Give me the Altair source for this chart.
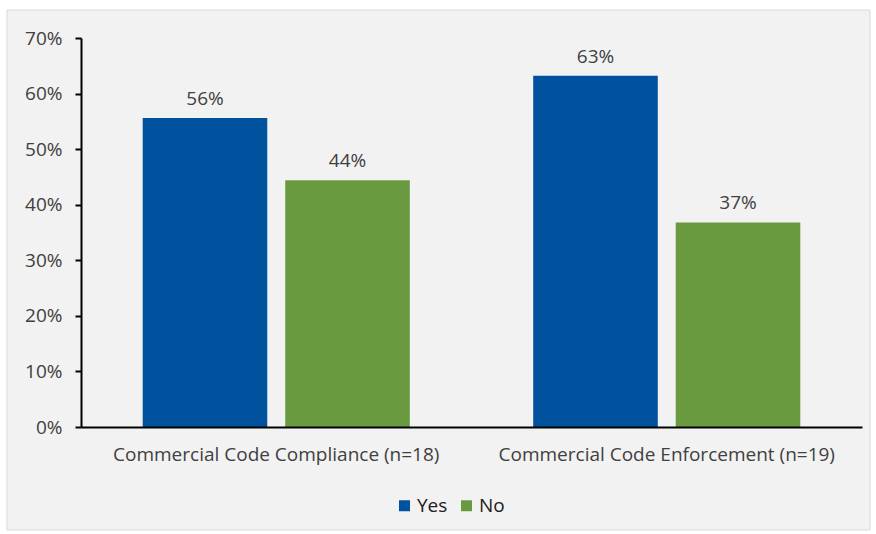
import altair as alt
import pandas as pd

categories = ["Commercial Code Compliance (n=18)", "Commercial Code Enforcement (n=19)"]
series = ["Yes", "No"]
yes_values = [0.556, 0.632]
no_values = [0.444, 0.368]
y_ticks = [0, 0.1, 0.2, 0.3, 0.4, 0.5, 0.6, 0.7]
colors = ["#00529F", "#6A9A40"]

rows = []
for i, c in enumerate(categories):
    rows.append({"category": c, "answer": "Yes", "value": yes_values[i]})
    rows.append({"category": c, "answer": "No", "value": no_values[i]})
df = pd.DataFrame(rows)

FONT = "Open Sans"
FS = 19
TXT = "#404040"

frame = alt.Chart(pd.DataFrame({"a": [0]})).mark_rect(
    fill="#F2F2F2", stroke="#D9D9D9", strokeWidth=1
).encode(
    x=alt.value(-74), x2=alt.value(789), y=alt.value(-28), y2=alt.value(492)
)

x_enc = alt.X(
    "category:N",
    sort=categories,
    scale=alt.Scale(paddingInner=0.316, paddingOuter=0.158),
    axis=alt.Axis(
        title=None, labelAngle=0, ticks=False, domainColor="black", domainWidth=2,
        labelFont=FONT, labelFontSize=FS, labelColor=TXT, labelPadding=18, zindex=1,
        labelLimit=0,
    ),
)
xo_enc = alt.XOffset("answer:N", sort=series, scale=alt.Scale(paddingInner=0.126, paddingOuter=0))
y_enc = alt.Y(
    "value:Q",
    scale=alt.Scale(domain=[0, 0.7], nice=False),
    axis=alt.Axis(
        title=None, values=y_ticks, format=".0%", grid=False, domainColor="black",
        domainWidth=2, tickColor="black", tickWidth=2, tickSize=6, labelPadding=13,
        labelFont=FONT, labelFontSize=FS, labelColor=TXT, zindex=1,
    ),
)

bars = alt.Chart(df).mark_bar().encode(
    x=x_enc,
    xOffset=xo_enc,
    y=y_enc,
    color=alt.Color(
        "answer:N",
        sort=series,
        scale=alt.Scale(domain=series, range=colors),
        legend=alt.Legend(
            title=None, orient="none", direction="horizontal", legendX=314, legendY=458,
            symbolType="square", symbolSize=121, symbolStrokeWidth=0,
            labelFont=FONT, labelFontSize=FS, labelColor="#202020", labelOffset=3,
            columnPadding=9,
        ),
    ),
)

labels = alt.Chart(df).mark_text(
    baseline="bottom", dy=-9, font=FONT, fontSize=FS, color=TXT
).encode(
    x=alt.X("category:N", sort=categories),
    xOffset=alt.XOffset("answer:N", sort=series),
    y="value:Q",
    text=alt.Text("value:Q", format=".0%"),
)

chart = alt.layer(frame, bars, labels).properties(
    width=781, height=389,
    autosize=alt.AutoSizeParams(type="none"),
    padding={"left": 81, "top": 38, "right": 14, "bottom": 107},
    background="white",
).configure_view(stroke=None)

chart.save("out.html", embed_options={"renderer": "svg", "actions": False})
